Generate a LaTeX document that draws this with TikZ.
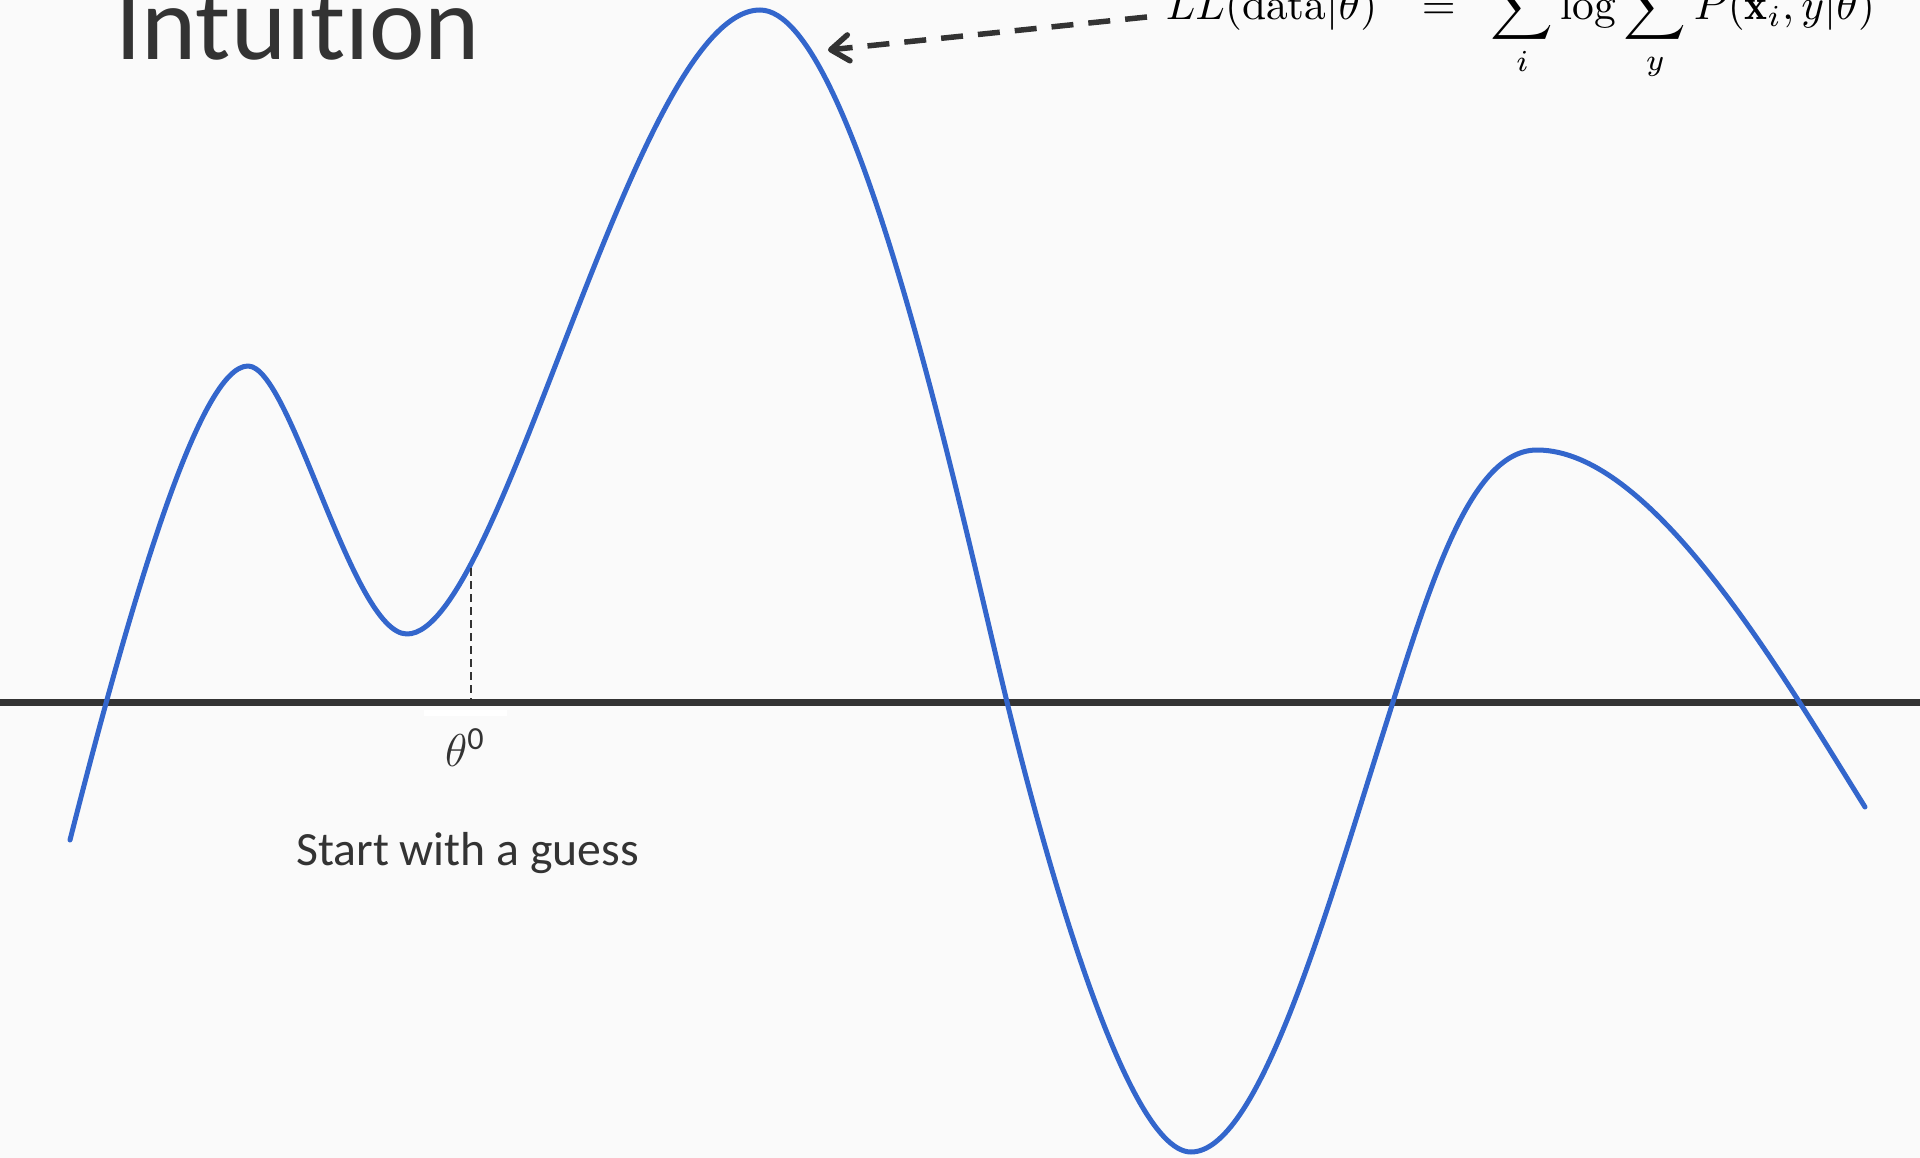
\RequirePackage{fix-cm}
\documentclass[tikz,border=0pt]{standalone}
\usepackage{fontspec}
\usepackage{amsmath}
\usepackage{tikz}
\usetikzlibrary{arrows.meta,positioning,calc}
\newfontfamily\slidefont[Ligatures=CommonOff]{Carlito}
\definecolor{ink}{HTML}{333333}
\definecolor{paper}{HTML}{FAFAFA}
\definecolor{curveblue}{HTML}{3366CC}
\tikzset{
  titletxt/.style={font=\slidefont\fontsize{105}{112}\selectfont, text=ink, inner sep=0pt, anchor=base west},
  bodytxt/.style={font=\slidefont\fontsize{47.7}{54}\selectfont, text=ink, inner sep=0pt, anchor=base west},
  thetatxt/.style={font=\slidefont\fontsize{46}{52}\selectfont, text=ink, inner sep=0pt, anchor=base west},
  mathtxt/.style={font=\normalsize, text=black, inner sep=0pt, anchor=base west, scale=4.35},
  axisline/.style={draw=ink, line width=7pt},
  llcurve/.style={draw=curveblue, line width=5pt, line cap=round, line join=round},
  guessline/.style={draw=ink, line width=2pt, dash pattern=on 8pt off 5pt},
  pointer/.style={-{Straight Barb[length=18pt, width=26pt, round]}, draw=ink, line width=5.5pt,
                  dash pattern=on 22pt off 15pt}
}

\begin{document}
\begin{tikzpicture}[x=1pt, y=-1pt]
  \fill[paper] (0,0) rectangle (1920,1158);
  \useasboundingbox (0,0) rectangle (1920,1158);

  \node[titletxt] (title) at (115,60) {Intuition};

  \coordinate (axl) at (0,702);
  \coordinate (axr) at (1920,702);
  \draw[axisline] (axl) -- (axr);

  \draw[llcurve] (70,840)
    .. controls (131.5,598) and (200,366) .. (248,366)
    .. controls (291,366) and (352,634) .. (407,634)
    .. controls (502,634) and (635,10) .. (760,10)
    .. controls (855,10) and (962,517.5) .. (1007,702)
    .. controls (1032,804.5) and (1121,1152) .. (1191,1152)
    .. controls (1257,1152) and (1322,927) .. (1380,743)
    .. controls (1426.5,597) and (1467,450) .. (1537,450)
    .. controls (1652,450) and (1780,671) .. (1865,807);

  \coordinate (guess) at (471,568);
  \draw[guessline] (guess) -- (guess |- axl);
  \fill[white] (424,710) rectangle (507,716);
  \node[thetatxt] (theta) at (445,766) {$\theta$\textsuperscript{0}};
  \node[bodytxt] (start) at (296,865) {Start with a guess};

  \node[mathtxt] (ll) at (1165,20)
    {$\displaystyle LL(\mathrm{data}|\theta)\mkern13.5mu=\mkern9.5mu\sum_i\log\sum_y P(\mathbf{x}_i,y|\theta)$};
  \coordinate (peak) at (828,50);
  \draw[pointer] ([xshift=-18pt, yshift=3pt]ll.base west) -- (peak);
\end{tikzpicture}
\end{document}
